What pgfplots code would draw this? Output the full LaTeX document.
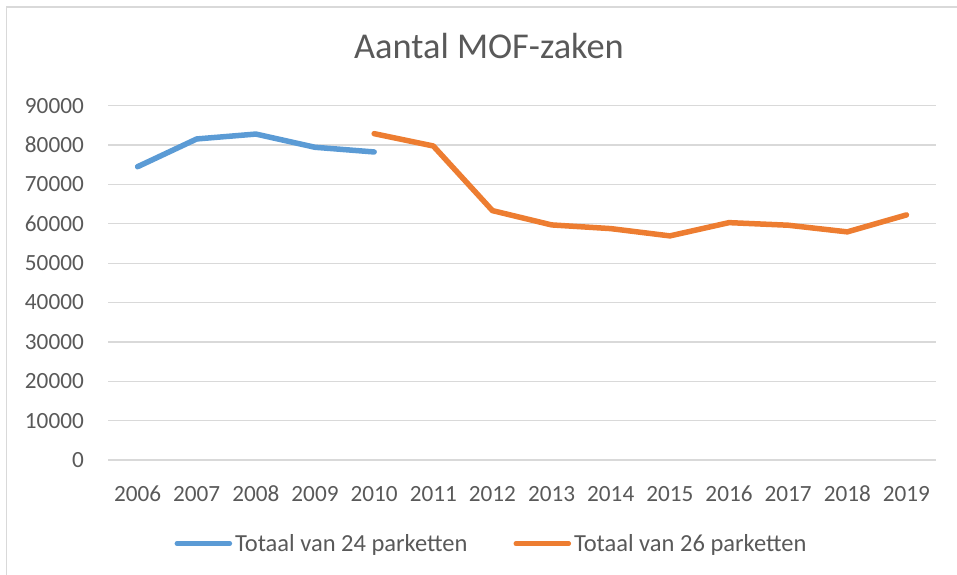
\documentclass[border=0pt]{standalone}
\usepackage{fontspec}
\setmainfont{Carlito}
\usepackage{pgfplots}
\pgfplotsset{compat=1.18}
\definecolor{txt}{HTML}{595959}
\definecolor{grd}{HTML}{D9D9D9}
\definecolor{sblue}{HTML}{5B9BD5}
\definecolor{sorange}{HTML}{ED7D31}
\begin{document}
\begin{tikzpicture}[x=1bp,y=1bp]
\useasboundingbox (0,0) rectangle (957,-575);
\draw[grd, line width=1.3bp] (6.5,-610) -- (6.5,-7) -- (990,-7);
\node[anchor=base, text=txt, font=\fontsize{36.5}{42}\selectfont, inner sep=0] at (489,-58.3) {Aantal MOF-zaken};
\begin{axis}[
  at={(108bp,-460bp)}, anchor=south west,
  scale only axis, width=828bp, height=354.3bp,
  xmin=-0.5, xmax=13.5, ymin=0, ymax=90000,
  xtick={0,...,13},
  xticklabels={2006,2007,2008,2009,2010,2011,2012,2013,2014,2015,2016,2017,2018,2019},
  ytick={0,10000,...,90000},
  scaled y ticks=false,
  /pgf/number format/.cd, set thousands separator={}, assume math mode=true,
  /pgfplots/.cd,
  major tick length=0pt,
  axis x line*=bottom, axis y line*=left,
  x axis line style={grd, line width=1.3bp, -},
  y axis line style={draw=none},
  ymajorgrids, grid style={grd, line width=1.3bp},
  tick label style={text=txt, font=\fontsize{23.3}{28}\selectfont, inner sep=0},
  xticklabel style={anchor=base, yshift=-41bp},
  yticklabel style={anchor=east, xshift=-24bp},
  clip=false,
  legend columns=2,
  legend style={at={(0.462,-0.236)}, anchor=center, draw=none, fill=none,
    font=\fontsize{24.6}{29}\selectfont, text=txt,
    /tikz/every even column/.append style={column sep=46bp},
    inner sep=0, nodes={inner sep=0bp, text=txt}},
  legend image code/.code={\draw[#1, line width=4.5bp, line cap=round] (0bp,0bp) -- (53bp,0bp);},
  legend cell align=left,
]
\addplot[sblue, line width=5.5bp, line cap=round, line join=round] coordinates {
(0,74500) (1,81550) (2,82800) (3,79440) (4,78250)};
\addlegendentry{\hspace{3bp}Totaal van 24 parketten}
\addplot[sorange, line width=5.5bp, line cap=round, line join=round] coordinates {
(4,82900) (5,79770) (6,63350) (7,59720) (8,58780) (9,56930) (10,60300) (11,59640) (12,57950) (13,62260)};
\addlegendentry{\hspace{3bp}Totaal van 26 parketten}
\end{axis}
\end{tikzpicture}
\end{document}
